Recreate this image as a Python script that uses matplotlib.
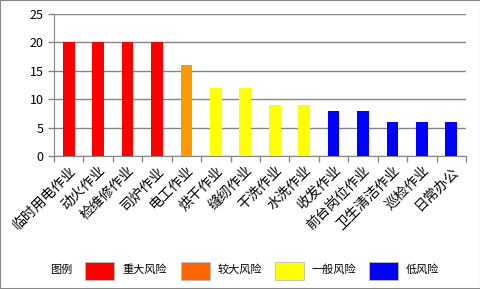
import matplotlib.pyplot as plt
from matplotlib.patches import Rectangle

plt.rcParams['font.family'] = ['Noto Sans CJK SC', 'DejaVu Sans']

categorias = ['临时用电作业', '动火作业', '检维修作业', '司炉作业', '电工作业', '烘干作业',
              '缝纫作业', '干洗作业', '水洗作业', '收发作业', '前台岗位作业', '卫生清洁作业',
              '巡检作业', '日常办公']
valores = [20, 20, 20, 20, 16, 12, 12, 9, 9, 8, 8, 6, 6, 6]
colores_barra = ['#FF0000'] * 4 + ['#FF9900'] + ['#FFFF00'] * 4 + ['#0000FF'] * 5
leyenda_txt = ['重大风险', '较大风险', '一般风险', '低风险']
leyenda_col = ['#FF0000', '#FF6600', '#FFFF00', '#0000FF']

fig = plt.figure(figsize=(4.81, 2.89), dpi=100)
ax = fig.add_axes([54/481, 1-156/289, (466-54)/481, (156-14)/289])

x = range(len(categorias))
ax.bar(x, valores, width=0.4, color=colores_barra, zorder=3)
ax.set_xlim(-0.5, len(categorias)-0.5)
ax.set_ylim(0, 25)
ax.set_yticks(range(0, 26, 5))
ax.grid(axis='y', color='#868686', linewidth=1, zorder=0)
for s in ['top', 'right']:
    ax.spines[s].set_visible(False)
for s in ['left', 'bottom']:
    ax.spines[s].set_color('#868686')
ax.tick_params(axis='y', colors='#868686', labelcolor='black', labelsize=9, length=4, width=1)
ax.set_xticks([i - 0.5 for i in range(len(categorias)+1)], minor=False)
ax.set_xticklabels([])
ax.tick_params(axis='x', colors='#868686', length=4, width=1)
ax.set_xticks(list(x), minor=True)
ax.tick_params(axis='x', which='minor', length=0)
ax.set_xticklabels(categorias, minor=True, rotation=45, ha='right', va='top',
                   rotation_mode='anchor', fontsize=10)
for lab in ax.get_xticklabels(minor=True):
    lab.set_y(-0.02)
    lab.set_x(lab.get_position()[0])

# leyenda manual
fig.text(50/481, 1-270/289, '图例', fontsize=8, va='center', ha='left')
xs = [85, 181, 275, 369]
for xi, c, t in zip(xs, leyenda_col, leyenda_txt):
    fig.patches.append(Rectangle((xi/481, 1-280/289), 29/481, 18/289, transform=fig.transFigure,
                                 facecolor=c, edgecolor='#BBBBBB', linewidth=0.6))
    fig.text((xi+37)/481, 1-270/289, t, fontsize=8, va='center', ha='left')

fig.patches.append(Rectangle((0, 0), 1, 1, transform=fig.transFigure, fill=False,
                             edgecolor='#888888', linewidth=1.5))
fig.savefig('out.png', dpi=100)
